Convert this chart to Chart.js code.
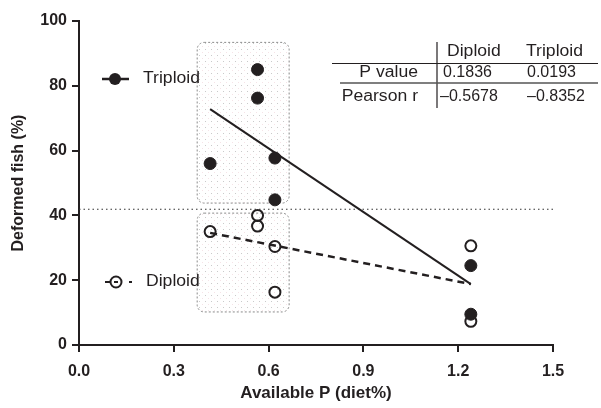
<!DOCTYPE html>
<html>
<head>
<meta charset="utf-8">
<script src="https://cdn.jsdelivr.net/npm/chart.js@4.4.0/dist/chart.umd.min.js"></script>
<style>
  html, body { margin: 0; padding: 0; background: #fff; }
  #wrap { width: 601px; height: 408px; }
</style>
</head>
<body>
<div id="wrap"><canvas id="chart" width="601" height="408"></canvas></div>
<script>
// Valeurs
const triploidX = [0.415, 0.565, 0.565, 0.62, 0.62, 1.24, 1.24];
const triploidY = [56, 85, 76.2, 57.7, 44.8, 24.5, 9.5];
const diploidX = [0.415, 0.565, 0.565, 0.62, 0.62, 1.24, 1.24];
const diploidY = [35, 40, 36.7, 30.4, 16.3, 30.6, 7.3];

// Droites de régression
const triploidFitX = [0.415, 1.24];
const triploidFitY = [72.8, 18.8];
const diploidFitX = [0.415, 1.24];
const diploidFitY = [34.6, 18.8];

// Ligne horizontale pointillée
const thresholdX = [0, 1.5];
const thresholdY = [41.9, 41.9];

// Zones grisées (unités des axes)
const boxLeft = 0.374;
const boxRight = 0.665;
const boxTop = [93.4, 40.7];
const boxBottom = [43.8, 10.2];

// Graduations
const xTicks = [0, 0.3, 0.6, 0.9, 1.2, 1.5];
const yTicks = [0, 20, 40, 60, 80, 100];

// Tableau statistique
const tableCols = ['Diploid', 'Triploid'];
const tableRows = ['P value', 'Pearson r'];
const pValues = ['0.1836', '0.0193'];
const pearsonR = ['\u20130.5678', '\u20130.8352'];

const toPts = (xs, ys) => xs.map((x, i) => ({ x: x, y: ys[i] }));
const ink = '#231f20';
const FONT = '"Liberation Sans", Arial, sans-serif';

// motif de points pour les zones
function dotPattern(ctx) {
    const c = document.createElement('canvas');
    c.width = 6; c.height = 6;
    const p = c.getContext('2d');
    p.fillStyle = 'rgba(150,150,150,0.5)';
    p.fillRect(1, 1, 1, 1);
    p.fillStyle = 'rgba(225,175,185,0.35)';
    p.fillRect(4, 4, 1, 1);
    return ctx.createPattern(c, 'repeat');
}

const boxPlugin = {
    id: 'boxes',
    beforeDatasetsDraw(chart) {
        const { ctx, scales: { x, y } } = chart;
        ctx.save();
        boxTop.forEach((t, i) => {
            const x0 = x.getPixelForValue(boxLeft);
            const x1 = x.getPixelForValue(boxRight);
            const y0 = y.getPixelForValue(t);
            const y1 = y.getPixelForValue(boxBottom[i]);
            ctx.beginPath();
            ctx.roundRect(x0, y0, x1 - x0, y1 - y0, 7);
            ctx.fillStyle = dotPattern(ctx);
            ctx.fill();
            ctx.setLineDash([2, 2]);
            ctx.lineWidth = 1;
            ctx.strokeStyle = '#8a8a8a';
            ctx.stroke();
        });
        ctx.restore();
    }
};

// texte légèrement élargi comme sur la figure
function wideText(ctx, txt, x, y, align) {
    const k = 1.1;
    ctx.save();
    ctx.translate(x, y);
    ctx.scale(k, 1);
    ctx.textAlign = align;
    ctx.fillText(txt, 0, 0);
    ctx.restore();
}

const extrasPlugin = {
    id: 'extras',
    afterDraw(chart) {
        const ctx = chart.ctx;
        ctx.save();
        ctx.fillStyle = ink;
        ctx.strokeStyle = ink;
        ctx.textBaseline = 'middle';
        ctx.font = '16px ' + FONT;

        // Légende Triploid
        ctx.lineWidth = 2.5;
        ctx.beginPath(); ctx.moveTo(102, 79); ctx.lineTo(129, 79); ctx.stroke();
        ctx.beginPath(); ctx.arc(115, 79, 6, 0, Math.PI * 2); ctx.fill();
        wideText(ctx, chart.data.datasets[0].label, 143, 79, 'left');

        // Légende Diploid
        ctx.lineWidth = 2;
        ctx.beginPath(); ctx.moveTo(105, 282); ctx.lineTo(110, 282); ctx.stroke();
        ctx.beginPath(); ctx.arc(116, 282, 5.5, 0, Math.PI * 2);
        ctx.fillStyle = '#fff'; ctx.fill(); ctx.stroke();
        ctx.beginPath(); ctx.moveTo(114, 282); ctx.lineTo(118, 282); ctx.stroke();
        ctx.fillStyle = ink;
        ctx.fillRect(129, 281, 3, 2);
        wideText(ctx, chart.data.datasets[1].label, 146, 282, 'left');

        // Tableau
        ctx.lineWidth = 1.2;
        ctx.beginPath(); ctx.moveTo(437, 42); ctx.lineTo(437, 108); ctx.stroke();
        ctx.beginPath(); ctx.moveTo(332, 63.5); ctx.lineTo(598, 63.5); ctx.stroke();
        ctx.strokeStyle = '#555';
        ctx.lineWidth = 1.5;
        ctx.beginPath(); ctx.moveTo(340, 83); ctx.lineTo(598, 83); ctx.stroke();

        wideText(ctx, tableCols[0], 447, 52, 'left');
        wideText(ctx, tableCols[1], 526, 52, 'left');
        wideText(ctx, tableRows[0], 418, 73, 'right');
        wideText(ctx, tableRows[1], 418, 97, 'right');
        ctx.textAlign = 'left';
        ctx.fillText(pValues[0], 443, 73);
        ctx.fillText(pValues[1], 527, 73);
        ctx.fillText(pearsonR[0], 440, 97);
        ctx.fillText(pearsonR[1], 527, 97);
        ctx.restore();
    }
};

const ctx = document.getElementById('chart').getContext('2d');
new Chart(ctx, {
    type: 'scatter',
    data: {
        datasets: [
            {
                label: 'Triploid',
                data: toPts(triploidX, triploidY),
                pointRadius: 6,
                pointBackgroundColor: ink,
                pointBorderColor: ink,
                pointBorderWidth: 1,
                order: 0
            },
            {
                label: 'Diploid',
                data: toPts(diploidX, diploidY),
                pointRadius: 5.5,
                pointBackgroundColor: 'rgba(255,255,255,0)',
                pointBorderColor: ink,
                pointBorderWidth: 2,
                order: 0
            },
            {
                label: 'Triploid fit',
                data: toPts(triploidFitX, triploidFitY),
                showLine: true,
                pointRadius: 0,
                borderColor: ink,
                borderWidth: 2,
                order: 1
            },
            {
                label: 'Diploid fit',
                data: toPts(diploidFitX, diploidFitY),
                showLine: true,
                pointRadius: 0,
                borderColor: ink,
                borderWidth: 2.5,
                borderDash: [7, 5],
                order: 1
            },
            {
                label: 'Threshold',
                data: toPts(thresholdX, thresholdY),
                showLine: true,
                pointRadius: 0,
                borderColor: '#333',
                borderWidth: 1.2,
                borderDash: [1.5, 3],
                order: 2
            }
        ]
    },
    options: {
        responsive: false,
        animation: false,
        layout: { padding: { top: 21, right: 48, left: 0, bottom: 0 } },
        plugins: {
            legend: { display: false },
            tooltip: { enabled: false }
        },
        scales: {
            x: {
                type: 'linear',
                min: 0,
                max: 1.5,
                afterFit: (s) => { s.height = 63; },
                afterBuildTicks: (s) => { s.ticks = xTicks.map(v => ({ value: v })); },
                grid: { drawOnChartArea: false, drawTicks: true, tickLength: 7, color: ink, lineWidth: 2 },
                border: { display: true, color: ink, width: 2 },
                ticks: {
                    color: ink,
                    padding: 10,
                    font: { family: FONT, size: 16, weight: 'bold' },
                    callback: (v) => Number(v).toFixed(1)
                },
                title: {
                    display: true,
                    text: 'Available P (diet%)',
                    color: ink,
                    padding: { top: 6 },
                    font: { family: FONT, size: 17, weight: 'bold' }
                }
            },
            y: {
                type: 'linear',
                min: 0,
                max: 100,
                afterFit: (s) => { s.width = 79; },
                afterBuildTicks: (s) => { s.ticks = yTicks.map(v => ({ value: v })); },
                grid: { drawOnChartArea: false, drawTicks: true, tickLength: 7, color: ink, lineWidth: 2 },
                border: { display: true, color: ink, width: 2 },
                ticks: {
                    color: ink,
                    padding: 5,
                    font: { family: FONT, size: 16, weight: 'bold' }
                },
                title: {
                    display: true,
                    text: 'Deformed fish (%)',
                    color: ink,
                    padding: { top: 9 },
                    font: { family: FONT, size: 16, weight: 'bold' }
                }
            }
        }
    },
    plugins: [boxPlugin, extrasPlugin]
});
</script>
</body>
</html>
